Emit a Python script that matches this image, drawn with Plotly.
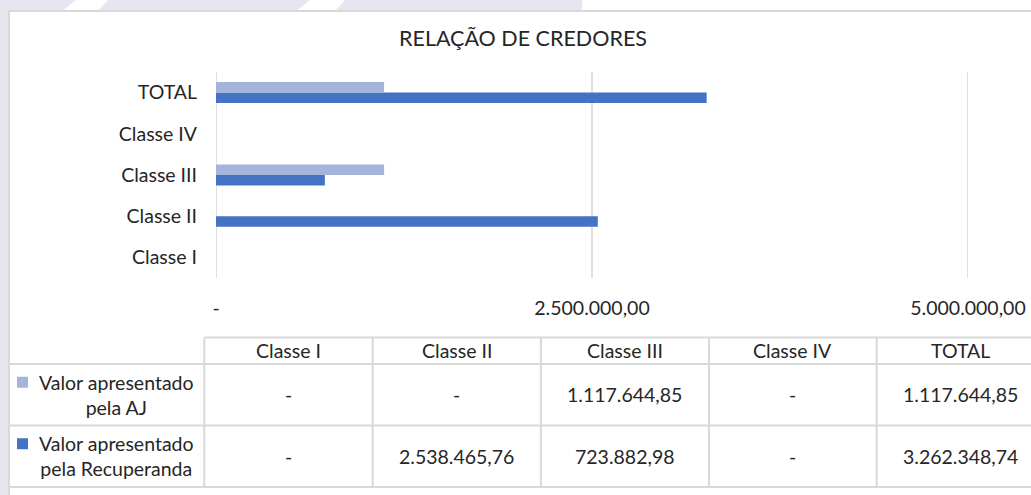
import plotly.graph_objects as go

# ---------------- data ----------------
categories = ["Classe I", "Classe II", "Classe III", "Classe IV", "TOTAL"]
series_names = ["Valor apresentado<br>pela AJ", "Valor apresentado<br>pela Recuperanda"]
valor_aj = [0, 0, 1117644.85, 0, 1117644.85]
valor_recuperanda = [0, 2538465.76, 723882.98, 0, 3262348.74]
x_ticks = [0, 2500000, 5000000]
title_text = "RELAÇÃO DE CREDORES"

# ---------------- style ----------------
W, H = 1031, 495
COL_AJ = "#A5B4DC"
COL_REC = "#4472C4"
GRID = "#D9D9D9"
TXT = "#262626"
FONT = "Lato"
FS = 19.5


def px(x):
    return min(x, W) / W


def py(y):
    return 1 - min(y, H) / H


def fmt_br(v):
    if v == 0:
        return "-"
    s = f"{v:,.2f}"
    return s.replace(",", "X").replace(".", ",").replace("X", ".")


fig = go.Figure()
fig.add_trace(go.Bar(y=categories, x=valor_recuperanda, orientation="h",
                     marker=dict(color=COL_REC, line=dict(width=0)),
                     name=series_names[1]))
fig.add_trace(go.Bar(y=categories, x=valor_aj, orientation="h",
                     marker=dict(color=COL_AJ, line=dict(width=0)),
                     name=series_names[0]))

PLOT_TOP, PLOT_BOTTOM = 72, 278

shapes = []
LAV = "#E6E6F0"
shapes.append(dict(type="rect", xref="paper", yref="paper", x0=px(0), x1=px(582), y0=py(11), y1=py(0),
                   fillcolor=LAV, line=dict(width=0), layer="below"))
shapes.append(dict(type="rect", xref="paper", yref="paper", x0=px(0), x1=px(9), y0=py(495), y1=py(0),
                   fillcolor=LAV, line=dict(width=0), layer="below"))
for a, b in [(62, 108), (296, 345)]:
    shapes.append(dict(type="path", xref="paper", yref="paper",
                       path=f"M {px(a+14)} {py(0)} L {px(b)} {py(0)} L {px(b-10)} {py(11)} L {px(a)} {py(11)} Z",
                       fillcolor="#FFFFFF", line=dict(width=0), layer="below"))
# chart border (left + top)
shapes.append(dict(type="line", xref="paper", yref="paper", x0=px(9), x1=px(9), y0=py(495), y1=py(10),
                   line=dict(color=GRID, width=2), layer="below"))
shapes.append(dict(type="line", xref="paper", yref="paper", x0=px(8), x1=px(1031), y0=py(11), y1=py(11),
                   line=dict(color=GRID, width=2), layer="below"))

# vertical gridlines at the value-axis ticks (placed through the x axis scale)
for t in x_ticks:
    shapes.append(dict(type="line", xref="x", yref="paper", x0=t, x1=t,
                       y0=py(PLOT_BOTTOM), y1=py(PLOT_TOP), line=dict(color=GRID, width=1.6), layer="below"))

col_edges = [204.3, 372.7, 540.9, 709.0, 876.7, 1045.0]
row_lines = [337.5, 364.0, 425.5, 487.0]
LINE_W = 2
shapes.append(dict(type="line", xref="paper", yref="paper", x0=px(col_edges[0]), x1=px(1031),
                   y0=py(row_lines[0]), y1=py(row_lines[0]), line=dict(color=GRID, width=LINE_W)))
for r in row_lines[1:]:
    shapes.append(dict(type="line", xref="paper", yref="paper", x0=px(9), x1=px(1031),
                       y0=py(r), y1=py(r), line=dict(color=GRID, width=LINE_W)))
for c in col_edges[:-1]:
    shapes.append(dict(type="line", xref="paper", yref="paper", x0=px(c), x1=px(c),
                       y0=py(row_lines[0]), y1=py(row_lines[-1]), line=dict(color=GRID, width=LINE_W)))

annotations = []
for i, cat in enumerate(categories):
    cx = (col_edges[i] + col_edges[i + 1]) / 2
    annotations.append(dict(text=cat, x=px(cx), y=py((row_lines[0] + row_lines[1]) / 2),
                            xref="paper", yref="paper", showarrow=False,
                            xanchor="center", yanchor="middle", font=dict(size=FS, color=TXT, family=FONT)))
rows = [(series_names[0], valor_aj, COL_AJ), (series_names[1], valor_recuperanda, COL_REC)]
for r, (name, vals, col) in enumerate(rows):
    y0, y1 = row_lines[r + 1], row_lines[r + 2]
    cy = (y0 + y1) / 2
    annotations.append(dict(text=name, x=px(116), y=py(cy), xref="paper", yref="paper", showarrow=False,
                            xanchor="center", yanchor="middle", align="center",
                            font=dict(size=FS, color=TXT, family=FONT)))
    ky = cy - 12.5
    shapes.append(dict(type="rect", xref="paper", yref="paper", x0=px(17), x1=px(28),
                       y0=py(ky + 5.5), y1=py(ky - 5.5), fillcolor=col, line=dict(width=0)))
    for i, v in enumerate(vals):
        cx = (col_edges[i] + col_edges[i + 1]) / 2
        annotations.append(dict(text=fmt_br(v), x=px(cx), y=py(cy), xref="paper", yref="paper",
                                showarrow=False, xanchor="center", yanchor="middle",
                                font=dict(size=FS, color=TXT, family=FONT)))

fig.update_layout(
    width=W, height=H, autosize=False,
    margin=dict(l=0, r=0, t=0, b=0, pad=0, autoexpand=False),
    paper_bgcolor="#FFFFFF", plot_bgcolor="rgba(0,0,0,0)",
    showlegend=False,
    barmode="group", bargap=0.49, bargroupgap=0,
    title=dict(text=title_text, x=px(523), y=py(38), xanchor="center", yanchor="middle",
               xref="paper", yref="paper", font=dict(size=21.5, color=TXT, family=FONT)),
    xaxis=dict(domain=[px(216), px(968)], range=[0, 5000000], tickvals=x_ticks,
               ticktext=[fmt_br(v) for v in x_ticks], showgrid=False,
               zeroline=False, showline=False, ticks="", ticklabelstandoff=16, automargin=False,
               tickfont=dict(size=FS, color=TXT, family=FONT), fixedrange=True),
    yaxis=dict(domain=[py(PLOT_BOTTOM), py(PLOT_TOP)], categoryorder="array", categoryarray=categories,
               showgrid=False, zeroline=False, showline=False, ticks="", ticklabelstandoff=18,
               automargin=False,
               tickfont=dict(size=FS, color=TXT, family=FONT), fixedrange=True),
    shapes=shapes, annotations=annotations,
)

post = ("document.documentElement.style.margin='0';document.body.style.margin='0';"
        "document.documentElement.style.overflow='hidden';document.body.style.overflow='hidden';")
fig.write_html("out.html", config={"responsive": False, "displayModeBar": False}, post_script=post)
